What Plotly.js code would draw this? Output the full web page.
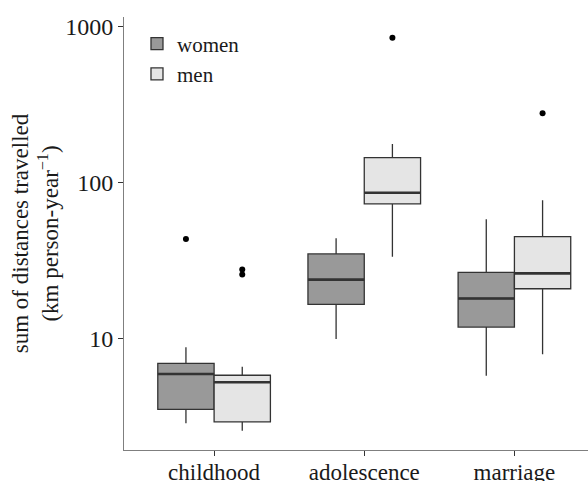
<!DOCTYPE html>
<html>
<head>
<meta charset="utf-8">
<script src="https://cdn.plot.ly/plotly-3.0.1.min.js"></script>
<style>html,body{margin:0;padding:0;background:#fff;}#chart{width:588px;height:481px;}</style>
</head>
<body>
<div id="chart"></div>
<script>
var categories = ["childhood", "adolescence", "marriage"];
var groups = ["women", "men"];

// women stats per category
var womenLower = [2.85, 9.9, 5.75];
var womenQ1 = [3.5, 16.5, 11.8];
var womenMedian = [5.9, 23.8, 18.0];
var womenQ3 = [6.9, 34.8, 26.5];
var womenUpper = [8.75, 43.8, 58.0];
var womenOutlierCat = [0];
var womenOutlierVal = [43.4];

// men stats per category
var menLower = [2.55, 33.4, 7.9];
var menQ1 = [2.91, 72.8, 20.8];
var menMedian = [5.22, 86.0, 26.1];
var menQ3 = [5.79, 144.3, 44.9];
var menUpper = [6.57, 176.7, 76.9];
var menOutlierCat = [0, 0, 1, 2];
var menOutlierVal = [27.6, 25.7, 850, 278];

var yTickVals = [10, 100, 1000];
var yTickText = ["10", "100", "1000"];

var boxW = 0.375;
var fills = {women: "#999999", men: "#e5e5e5"};
var edge = "#333333";
var font = "Liberation Serif, Times New Roman, serif";

function pos(offset) { return categories.map(function (c, i) { return i + offset; }); }

function boxTrace(name, offset, lo, q1, med, q3, hi) {
  return {
    type: "box", name: name, x: pos(offset),
    q1: q1, median: med, q3: q3, lowerfence: lo, upperfence: hi,
    width: boxW, whiskerwidth: 0,
    fillcolor: fills[name], line: {color: edge, width: 1.3},
    boxpoints: false, hoverinfo: "skip"
  };
}
function medianTrace(offset, med) {
  var xs = [], ys = [];
  med.forEach(function (m, i) {
    xs.push(i + offset - boxW / 2, i + offset + boxW / 2, null);
    ys.push(m, m, null);
  });
  return {type: "scatter", mode: "lines", x: xs, y: ys, showlegend: false,
          line: {color: edge, width: 2.6}, hoverinfo: "skip"};
}
function outlierTrace(offset, cats, vals) {
  return {type: "scatter", mode: "markers", x: cats.map(function (c) { return c + offset; }), y: vals,
          showlegend: false, marker: {color: "#000", size: 6}, hoverinfo: "skip"};
}

var data = [
  boxTrace("women", -boxW / 2, womenLower, womenQ1, womenMedian, womenQ3, womenUpper),
  boxTrace("men", boxW / 2, menLower, menQ1, menMedian, menQ3, menUpper),
  medianTrace(-boxW / 2, womenMedian),
  medianTrace(boxW / 2, menMedian),
  outlierTrace(-boxW / 2, womenOutlierCat, womenOutlierVal),
  outlierTrace(boxW / 2, menOutlierCat, menOutlierVal)
];

var layout = {
  width: 588, height: 481,
  margin: {l: 124, r: 0, t: 17, b: 31},
  paper_bgcolor: "#fff", plot_bgcolor: "#fff",
  font: {family: font, size: 22, color: "#1a1a1a"},
  showlegend: true,
  legend: {x: 0.028, y: 0.985, xanchor: "left", yanchor: "top", bgcolor: "rgba(0,0,0,0)",
           font: {family: font, size: 21, color: "#1a1a1a"}, tracegroupgap: 0, itemwidth: 30},
  xaxis: {
    range: [-0.6, 2.49], tickvals: [0, 1, 2], ticktext: categories,
    showgrid: false, zeroline: false, showline: true, linecolor: "#7f7f7f", linewidth: 1,
    ticks: "outside", ticklen: 5, tickcolor: "#333", ticklabelstandoff: -4,
    tickfont: {family: font, size: 23, color: "#1a1a1a"}
  },
  yaxis: {
    type: "log", range: [0.283, 3.062], tickvals: yTickVals, ticktext: yTickText,
    showgrid: false, zeroline: false, showline: true, linecolor: "#7f7f7f", linewidth: 1,
    ticks: "outside", ticklen: 5, tickcolor: "#333", tickfont: {family: font, size: 24, color: "#1a1a1a"},
    title: {text: "sum of distances travelled<br>(km person-year<sup>−1</sup>)", font: {family: font, size: 23, color: "#1a1a1a"}, standoff: 0}
  }
};

Plotly.newPlot("chart", data, layout, {displayModeBar: false, staticPlot: true});
</script>
</body>
</html>
